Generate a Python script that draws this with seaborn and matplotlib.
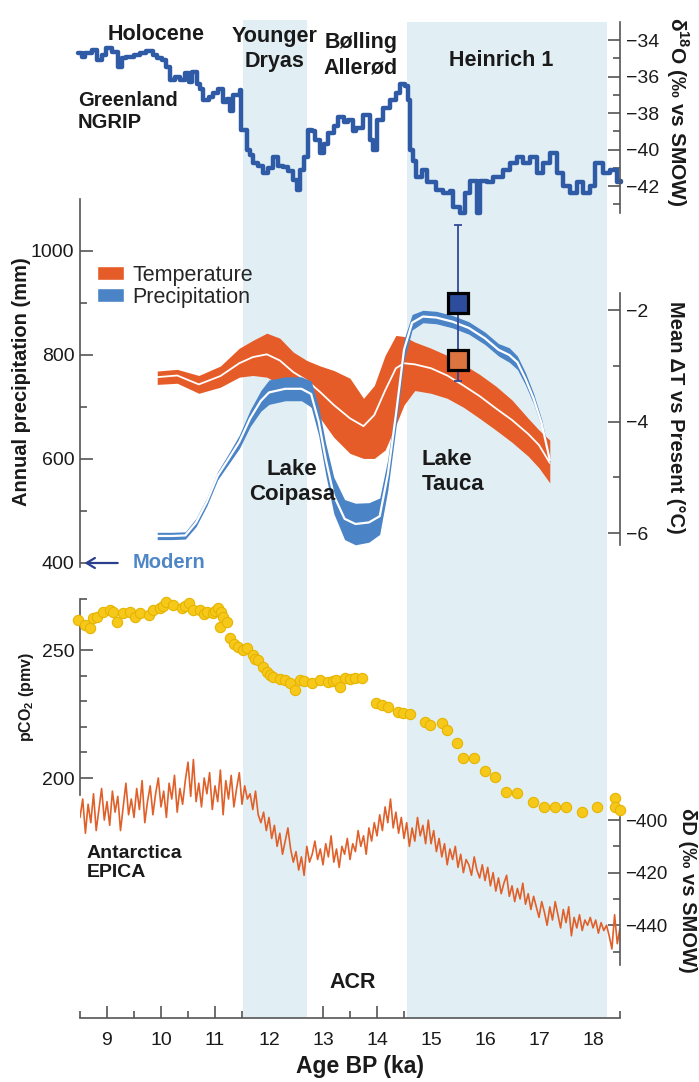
import numpy as np
import matplotlib
matplotlib.use("Agg")
import matplotlib.pyplot as plt
from matplotlib.patches import Patch
from matplotlib.ticker import MultipleLocator, FixedLocator
import seaborn as sns

# Greenland NGRIP d18O (step record), ka / permil
ngrip_age = [8.46, 8.53, 8.60, 8.72, 8.81, 8.90, 8.99, 9.09, 9.21, 9.28, 9.36, 9.50, 9.61, 9.73,
             9.85, 9.92, 10.01, 10.10, 10.17, 10.26, 10.35, 10.44, 10.51, 10.57, 10.66, 10.72,
             10.78, 10.88, 10.97, 11.06, 11.15, 11.22, 11.28, 11.34, 11.40, 11.46, 11.49, 11.59,
             11.65, 11.71, 11.80, 11.89, 11.98, 12.08, 12.17, 12.26, 12.36, 12.45, 12.51, 12.58,
             12.64, 12.73, 12.79, 12.85, 12.94, 13.02, 13.10, 13.20, 13.28, 13.38, 13.47, 13.56,
             13.62, 13.75, 13.87, 13.93, 14.00, 14.12, 14.24, 14.36, 14.43, 14.52, 14.58, 14.61,
             14.67, 14.73, 14.83, 14.92, 15.10, 15.23, 15.35, 15.41, 15.54, 15.63, 15.72, 15.85,
             15.91, 16.03, 16.15, 16.34, 16.46, 16.59, 16.71, 16.83, 16.96, 17.08, 17.20, 17.33,
             17.45, 17.57, 17.70, 17.82, 17.94, 18.04, 18.19, 18.31, 18.44, 18.52]
ngrip_d18o = [-34.7, -34.9, -34.7, -34.55, -35.1, -34.8, -34.4, -34.65, -35.45, -35.0, -34.9, -34.8,
              -34.7, -34.6, -34.8, -35.0, -35.1, -35.45, -36.2, -36.0, -36.2, -35.8, -36.3, -35.75,
              -36.4, -36.7, -37.3, -37.1, -36.9, -36.65, -37.4, -37.2, -37.9, -37.0, -37.0, -36.75,
              -38.9, -40.0, -40.3, -40.75, -40.9, -41.3, -41.0, -40.4, -40.9, -40.95, -41.2, -41.65,
              -42.2, -41.1, -40.4, -38.95, -39.0, -39.5, -40.2, -39.7, -39.1, -38.7, -38.2, -38.5,
              -38.4, -39.0, -38.8, -38.1, -39.5, -40.0, -38.4, -37.7, -37.3, -36.9, -36.4, -36.5,
              -37.3, -40.0, -40.6, -41.5, -41.1, -41.8, -42.2, -42.4, -42.3, -43.15, -43.5, -42.4,
              -41.7, -43.5, -41.7, -41.8, -41.5, -41.1, -40.75, -40.4, -40.75, -40.4, -41.3, -40.75,
              -40.2, -41.3, -42.0, -42.4, -41.8, -42.4, -42.0, -40.75, -41.3, -41.1, -41.8, -41.7]

# Temperature reconstruction (mean dT vs present, deg C)
temp_age = [9.93, 10.3, 10.7, 11.1, 11.45, 11.7, 11.96, 12.2, 12.45, 12.7, 12.95, 13.2, 13.5, 13.75,
            13.95, 14.15, 14.35, 14.5, 14.7, 15.0, 15.3, 15.6, 15.9, 16.2, 16.5, 16.8, 17.0, 17.2]
temp_mean = [-3.20, -3.17, -3.33, -3.18, -2.95, -2.84, -2.79, -2.90, -3.11, -3.26, -3.47, -3.70, -3.94,
             -4.08, -3.88, -3.44, -3.04, -2.95, -2.97, -3.04, -3.17, -3.35, -3.54, -3.76, -3.97, -4.22,
             -4.42, -4.74]
temp_low = [-3.33, -3.31, -3.49, -3.38, -3.20, -3.17, -3.20, -3.33, -3.47, -3.65, -3.94, -4.28, -4.57,
            -4.66, -4.66, -4.51, -4.06, -3.70, -3.44, -3.49, -3.58, -3.74, -3.94, -4.15, -4.37, -4.62,
            -4.83, -5.10]
temp_high = [-3.09, -3.06, -3.17, -3.00, -2.68, -2.54, -2.41, -2.50, -2.75, -2.90, -3.00, -3.08, -3.22,
             -3.58, -3.35, -2.81, -2.45, -2.47, -2.57, -2.68, -2.81, -2.97, -3.15, -3.36, -3.61, -3.94,
             -4.15, -4.33]

# Precipitation reconstruction (mm/yr)
precip_age = [9.93, 10.2, 10.45, 10.65, 10.85, 11.05, 11.25, 11.45, 11.65, 11.85, 12.0, 12.3, 12.6,
              12.78, 12.92, 13.05, 13.2, 13.4, 13.6, 13.85, 14.05, 14.2, 14.35, 14.5, 14.65, 14.85,
              15.1, 15.4, 15.7, 16.0, 16.25, 16.45, 16.6, 16.75, 16.9, 17.05, 17.2]
precip_mean = [452, 452, 453, 478, 518, 568, 600, 633, 678, 712, 728, 735, 735, 725, 672, 600, 530,
               485, 475, 478, 490, 570, 685, 810, 862, 874, 872, 864, 852, 832, 810, 800, 786, 754,
               716, 668, 598]
precip_low = [445, 445, 446, 470, 510, 560, 590, 620, 662, 692, 705, 712, 712, 700, 645, 570, 495,
              445, 435, 440, 455, 540, 660, 790, 848, 862, 860, 852, 840, 820, 798, 786, 772, 742,
              706, 660, 592]
precip_high = [459, 459, 460, 486, 526, 576, 610, 646, 694, 732, 752, 758, 758, 750, 700, 630, 565,
               522, 515, 516, 525, 600, 710, 830, 878, 886, 884, 876, 864, 844, 822, 814, 798, 766,
               726, 676, 604]

# Lake Tauca point estimates
tauca_age = 15.5
tauca_precip = 900
tauca_precip_err = 150
tauca_dT = -2.9
modern_precip = 400

# Atmospheric CO2 (ppmv)
co2_age = [8.46, 8.59, 8.69, 8.75, 8.81, 8.93, 9.06, 9.12, 9.18, 9.30, 9.43, 9.52, 9.61, 9.77, 9.86,
           9.98, 10.03, 10.10, 10.23, 10.38, 10.45, 10.51, 10.60, 10.72, 10.80, 10.85, 10.97, 11.00,
           11.06, 11.09, 11.12, 11.15, 11.22, 11.28, 11.36, 11.43, 11.52, 11.59, 11.71, 11.75, 11.80,
           11.89, 11.96, 12.02, 12.08, 12.20, 12.30, 12.39, 12.48, 12.57, 12.65, 12.79, 12.94, 13.10,
           13.18, 13.25, 13.31, 13.41, 13.50, 13.59, 13.72, 13.99, 14.10, 14.21, 14.39, 14.49, 14.61,
           14.89, 14.98, 15.20, 15.30, 15.49, 15.60, 15.80, 16.00, 16.19, 16.39, 16.60, 16.88, 17.09,
           17.30, 17.50, 17.80, 18.08, 18.41, 18.41, 18.50]
co2_ppm = [261.7, 259.8, 258.6, 262.5, 263.0, 265.0, 265.6, 264.8, 261.0, 264.3, 265.0, 262.8, 264.3,
           263.7, 265.6, 266.3, 267.0, 268.9, 267.6, 266.3, 267.2, 268.2, 265.6, 265.6, 264.0, 265.0,
           264.3, 265.3, 266.3, 259.1, 265.0, 263.0, 261.0, 254.6, 252.5, 251.3, 250.0, 250.6, 248.0,
           246.5, 246.1, 243.5, 241.5, 240.2, 239.5, 238.7, 238.3, 237.0, 234.4, 238.3, 237.8, 237.0,
           238.3, 237.6, 238.0, 238.3, 235.7, 238.9, 238.6, 238.9, 238.9, 229.2, 228.5, 227.8, 225.9,
           225.3, 225.0, 222.0, 220.7, 221.4, 218.8, 213.6, 207.7, 207.7, 202.9, 200.5, 194.7, 194.0,
           190.8, 188.8, 188.8, 188.8, 186.8, 188.8, 192.0, 188.8, 187.5]

# Antarctica EPICA dD (permil), every 0.05 ka from 8.5 ka
epica_age_start = 8.5
epica_age_step = 0.05
epica_dD = [-399, -392, -405, -394, -401, -390, -404, -396, -388, -400,
            -393, -402, -389, -397, -391, -404, -395, -386, -398, -392,
            -399, -388, -396, -385, -401, -393, -387, -398, -390, -384,
            -395, -389, -399, -386, -392, -383, -397, -388, -394, -385,
            -378, -391, -377, -393, -386, -395, -384, -390, -382, -396,
            -387, -393, -381, -398, -385, -392, -383, -395, -388, -382,
            -394, -387, -392, -390, -396, -389, -398, -401, -397, -404,
            -399, -407, -402, -410, -405, -413, -408, -403, -411, -416,
            -412, -419, -414, -421, -410, -416, -413, -408, -415, -411,
            -417, -409, -414, -406, -416, -411, -418, -410, -413, -407,
            -415, -409, -412, -404, -410, -406, -413, -403, -408, -401,
            -406, -398, -404, -395, -401, -392, -403, -397, -405, -399,
            -407, -401, -410, -403, -408, -399, -406, -402, -409, -400,
            -409, -404, -412, -407, -414, -409, -417, -411, -415, -410,
            -418, -413, -420, -415, -417, -421, -414, -419, -422, -417,
            -423, -418, -425, -420, -427, -422, -428, -424, -421, -429,
            -425, -431, -426, -430, -424, -432, -428, -434, -429, -433,
            -437, -431, -435, -440, -433, -438, -431, -436, -441, -434,
            -439, -433, -444, -437, -441, -436, -442, -438, -440, -437,
            -441, -438, -443, -439, -442, -440, -444, -449, -436, -447,
            -441]
epica_age = np.round(epica_age_start + epica_age_step * np.arange(len(epica_dD)), 3)

yd_span = (11.52, 12.70)
h1_span = (14.56, 18.26)

W, H = 699, 1082
AX = "#555555"
SHADE = "#e1eff5"
NAVY_LINE = "#2f5aa6"
ORANGE = "#e65c28"
PBLUE = "#4a84c6"
YELLOW = "#f6c81a"
DD_COL = "#e0602a"
TXT = "#1a1a1a"

sns.set_theme(style="white")
plt.rcParams["font.family"] = ["Liberation Sans", "DejaVu Sans"]
plt.rcParams["mathtext.fontset"] = "custom"
plt.rcParams["mathtext.rm"] = "Liberation Sans"
plt.rcParams["mathtext.bf"] = "Liberation Sans:bold"

fig = plt.figure(figsize=(W / 100, H / 100), dpi=100)


def rect(top, bottom):
    return [80 / W, 1 - bottom / H, 540 / W, (bottom - top) / H]


def ftext(x, y, s, **kw):
    kw.setdefault("color", TXT)
    fig.text(x / W, 1 - y / H, s, **kw)


def style_axis(ax, side, bounds, major, minor, labelsize=14):
    for sp in ["top", "bottom", "left", "right"]:
        ax.spines[sp].set_visible(sp == side)
    ax.spines[side].set_color(AX)
    ax.spines[side].set_linewidth(1.2)
    ax.spines[side].set_bounds(*bounds)
    ax.patch.set_visible(False)
    ax.set_xlim(8.5, 18.5)
    ax.set_xticks([])
    ax.set_xlabel("")
    ax.set_ylabel("")
    ax.yaxis.set_major_locator(FixedLocator(major))
    ax.yaxis.set_minor_locator(FixedLocator(minor))
    ax.tick_params(axis="y", which="both", direction="in", color=AX, width=1.2,
                   labelsize=labelsize, pad=4, labelcolor=TXT,
                   left=(side == "left"), right=(side == "right"),
                   labelleft=(side == "left"), labelright=(side == "right"))
    ax.tick_params(axis="y", which="major", length=9)
    ax.tick_params(axis="y", which="minor", length=5)


# background: shaded intervals and the shared age axis
ax_bg = fig.add_axes(rect(20, 1018))
ax_bg.set_xlim(8.5, 18.5)
ax_bg.set_ylim(0, 1)
ax_bg.axvspan(*yd_span, color=SHADE, lw=0)
ax_bg.axvspan(*h1_span, ymax=0.998, color=SHADE, lw=0)
for sp in ["top", "left", "right"]:
    ax_bg.spines[sp].set_visible(False)
ax_bg.spines["bottom"].set_color(AX)
ax_bg.spines["bottom"].set_linewidth(1.2)
ax_bg.set_yticks([])
ax_bg.xaxis.set_major_locator(MultipleLocator(1))
ax_bg.xaxis.set_minor_locator(MultipleLocator(0.5))
ax_bg.tick_params(axis="x", which="both", direction="in", bottom=True, color=AX, width=1.2,
                  labelsize=14, pad=10, labelcolor=TXT)
ax_bg.tick_params(axis="x", which="major", length=9)
ax_bg.tick_params(axis="x", which="minor", length=5)

# top: NGRIP d18O
ax_o = fig.add_axes(rect(22, 213))
sns.lineplot(x=ngrip_age, y=ngrip_d18o, ax=ax_o, drawstyle="steps-post", color=NAVY_LINE,
             linewidth=3.2, errorbar=None, clip_on=False)
ax_o.set_ylim(-43.48, -33.0)
style_axis(ax_o, "right", (-43.48, -33.0), [-42, -40, -38, -36, -34], [-43, -41, -39, -37, -35])

# middle: temperature (right axis) and precipitation (left axis)
ax_t = fig.add_axes(rect(199, 567))
ax_t.fill_between(temp_age, temp_low, temp_high, color=ORANGE, lw=0)
sns.lineplot(x=temp_age, y=temp_mean, ax=ax_t, color="white", linewidth=1.3, errorbar=None)
ax_t.set_ylim(-6.61, 0.0)
style_axis(ax_t, "right", (-6.22, -1.68), [-6, -4, -2], [-5, -3])

ax_p = fig.add_axes(rect(199, 567))
ax_p.fill_between(precip_age, precip_low, precip_high, color=PBLUE, lw=0)
sns.lineplot(x=precip_age, y=precip_mean, ax=ax_p, color="white", linewidth=1.6, errorbar=None)
ax_p.errorbar([tauca_age], [tauca_precip], yerr=[tauca_precip_err], fmt="none", ecolor="#34479a",
              elinewidth=1.3, capsize=3, capthick=1.3, zorder=4, clip_on=False)
ax_p.plot([tauca_age], [tauca_precip], marker="s", markersize=15, markerfacecolor="#2d4c9c",
          markeredgecolor="black", markeredgewidth=2.3, zorder=5, clip_on=False)
ax_p.plot([tauca_age], [tauca_dT], marker="s", markersize=15, markerfacecolor="#dc7440",
          markeredgecolor="black", markeredgewidth=2.3, zorder=5, transform=ax_t.transData)
ax_p.annotate("", xy=(8.53, modern_precip), xytext=(9.25, modern_precip),
              arrowprops=dict(arrowstyle="->,head_length=0.5,head_width=0.3", color="#2b3f8f", lw=1.6),
              annotation_clip=False)
ax_p.text(9.48, modern_precip, "Modern", color="#4f86c6", fontsize=14.5, fontweight="bold",
          va="center", ha="left")
handles = [Patch(facecolor=ORANGE, label="Temperature"), Patch(facecolor=PBLUE, label="Precipitation")]
ax_p.legend(handles=handles, loc="upper left", bbox_to_anchor=(0.031, 0.822), frameon=False,
            fontsize=15.5, handlelength=1.25, handleheight=0.6, handletextpad=0.4,
            labelspacing=0.05, borderaxespad=0, borderpad=0)
ax_p.set_ylim(392.3, 1100)
style_axis(ax_p, "left", (392.3, 1100), [400, 600, 800, 1000], [500, 700, 900])

# bottom: EPICA dD (right) and CO2 (left)
ax_d = fig.add_axes(rect(590, 970))
sns.lineplot(x=epica_age, y=epica_dD, ax=ax_d, color=DD_COL, linewidth=1.2, errorbar=None)
ax_d.set_ylim(-457.0, -312.55)
style_axis(ax_d, "right", (-455.1, -398.9), [-440, -420, -400], [-450, -430, -410], labelsize=13.5)

ax_c = fig.add_axes(rect(590, 970))
sns.scatterplot(x=co2_age, y=co2_ppm, ax=ax_c, color=YELLOW, edgecolor="#e6b400", s=55,
                linewidth=0.8, clip_on=False, zorder=3)
ax_c.set_ylim(125.0, 273.44)
style_axis(ax_c, "left", (193.4, 270), [200, 250], [210, 220, 230, 240, 260, 270])

# annotations
bold = dict(fontweight="bold", ha="center", va="center")
ftext(156, 34, "Holocene", fontsize=15.5, **bold)
ftext(275, 49, "Younger\nDryas", fontsize=15.5, linespacing=1.3, **bold)
ftext(361, 55, "Bølling\nAllerød", fontsize=15.5, linespacing=1.3, **bold)
ftext(501, 60, "Heinrich 1", fontsize=15.5, **bold)
ftext(78, 111, "Greenland\nNGRIP", fontsize=14.5, fontweight="bold", ha="left", va="center",
      linespacing=1.2)
ftext(292, 482, "Lake\nCoipasa", fontsize=16, linespacing=1.25, **bold)
ftext(422, 472, "Lake\nTauca", fontsize=16, fontweight="bold", ha="left", va="center",
      linespacing=1.25)
ftext(87, 863, "Antarctica\nEPICA", fontsize=14, fontweight="bold", ha="left", va="center",
      linespacing=1.2)
ftext(353, 982, "ACR", fontsize=15.5, **bold)

ftext(360, 1067, "Age BP (ka)", fontsize=16.5, **bold)
ftext(22, 382, "Annual precipitation (mm)", fontsize=14.5, rotation=90, **bold)
ftext(27, 697, r"pCO$_{\mathbf{2}}$ (pmv)", fontsize=11.5, rotation=90, **bold)
ftext(677, 112, r"δ$^{\mathbf{18}}$O (‰ vs SMOW)", fontsize=15, rotation=270, **bold)
ftext(676, 417, "Mean ΔT vs Present (°C)", fontsize=14.5, rotation=270, **bold)
ftext(687, 890, "δD (‰ vs SMOW)", fontsize=14.5, rotation=270, **bold)

fig.savefig("out.png", dpi=100)
